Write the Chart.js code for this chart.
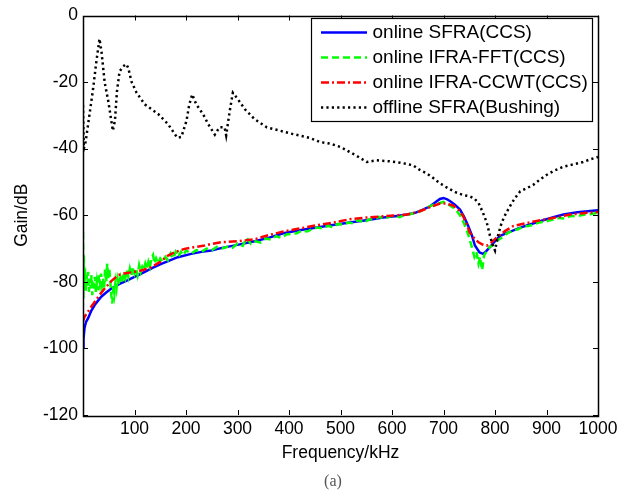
<!DOCTYPE html>
<html><head><meta charset="utf-8">
<script src="https://cdn.jsdelivr.net/npm/chart.js@4.4.0/dist/chart.umd.min.js"></script>
<style>html,body{margin:0;padding:0;background:#fff;}#wrap{width:635px;height:493px;position:relative;}canvas{display:block;}</style>
</head><body><div id="wrap"><canvas id="c" width="635" height="493"></canvas></div>
<script>
const seriesLabels = ['online SFRA(CCS)', 'online IFRA-FFT(CCS)', 'online IFRA-CCWT(CCS)', 'offline SFRA(Bushing)'];
const xTicks = [100, 200, 300, 400, 500, 600, 700, 800, 900, 1000];
const yTicks = [0, -20, -40, -60, -80, -100, -120];

const sfraFreq = [0,1,3,6,10,16,23,30,36,45,55,70,87,100,120,135,152,170,184,210,230,249,270,300,333,360,389,420,454,485,518,550,583,610,629,645,660,674,685,693,700,707,713,722,732,740,748,755,761,770,777,783,790,800,810,825,849,875,900,915,933,960,980,1000];
const sfraGain = [-99.8,-97,-93.8,-92,-90.9,-88.7,-86.9,-85.5,-84.4,-83.2,-82,-80.7,-79.5,-78.5,-77,-75.8,-74.6,-73.5,-72.6,-71.6,-71,-70.6,-69.8,-68.9,-67.8,-66.8,-65.4,-64.5,-63.7,-62.9,-62.2,-61.5,-60.7,-60.2,-59.8,-59.3,-58.3,-57.3,-56,-55.1,-54.8,-55.2,-55.8,-56.8,-58.3,-60.5,-63.2,-66,-69.1,-71.2,-71.6,-70.8,-69.6,-67.8,-66.2,-65.2,-63.7,-62.4,-61.2,-60.5,-59.8,-59.1,-58.8,-58.5];

const fftFreq = [0,0.5,1.5,3,4,5.5,7,8.5,10,11.5,13,15,16.5,18,20,21.5,23,25,27,29,31,33,35,37,39,41,43,45,47,49,51,53,55,57,59,61,63,65,67,70,73,76,79,82,85,88,91,94,97,100,103,106,109,112,115,118,121,124,127,130,133,136,139,142,146,150,155,160,165,170,175,180,185,190,195,200,210,220,230,240,250,260,270,280,290,300,310,318,326,335,345,355,365,375,385,395,405,415,425,435,445,455,465,475,485,495,505,515,525,535,545,555,565,575,585,595,605,615,625,635,645,655,665,675,685,693,700,708,716,724,732,740,748,755,760,764,768,771,775,779,783,790,798,805,815,825,835,845,855,865,875,885,895,905,915,925,935,945,955,965,975,985,1000];
const fftGain = [-65,-85,-72,-80,-76,-83,-78,-81,-77,-83,-79,-82,-78,-84,-80,-82,-78.5,-83,-80,-82.5,-78,-80.5,-77.5,-81,-79,-82,-76,-80,-74.5,-79,-76,-80,-84,-86.5,-81,-83.5,-80,-82,-79,-81,-78.5,-80,-77.5,-79,-76.5,-78.5,-76,-78,-75.5,-77.5,-76,-78,-75,-77,-75.5,-76.5,-74.5,-76,-74,-75.5,-73,-72,-74.5,-73,-74.5,-73,-74,-72.5,-73.5,-71.5,-73,-71,-72.5,-71,-72,-70.5,-71.5,-70.5,-71,-70,-70.5,-69.5,-70,-69.5,-69.8,-68.5,-69.2,-66.8,-68.6,-67.8,-68.2,-67,-67.3,-66.3,-66.8,-65.8,-65.6,-65.4,-64.6,-64.9,-64.2,-63.7,-63.9,-63.2,-63.6,-62.6,-62.8,-62.2,-62.4,-61.4,-62.2,-61.3,-61.2,-60.5,-61,-60.4,-60.1,-60.6,-59.8,-59.7,-59.2,-58.8,-58,-57.2,-56.6,-56.3,-56,-56.6,-57.4,-58.4,-60,-62.5,-65.8,-69.5,-72.5,-71,-74.5,-72.5,-76.5,-72,-71,-69.5,-68.8,-67.6,-66.5,-65.3,-64.6,-64.2,-63.4,-63.2,-62.8,-62.2,-62,-61.6,-61.2,-60.8,-61,-60.3,-60.2,-60.1,-59.8,-59.7,-59.2];

const ccwtFreq = [0,3,10,16,23,32,42,55,68,80,100,115,133,150,165,180,197,215,236,250,269,300,333,360,389,420,454,485,518,550,583,610,629,654,675,693,705,719,730,738,745,751,760,768,776,784,793,803,820,836,860,881,910,946,970,1000];
const ccwtGain = [-91.9,-90.5,-88.9,-87.5,-86,-84,-82,-79.8,-78,-77.5,-77,-76.5,-75.6,-74,-72.1,-71,-70.1,-69.6,-69.1,-68.6,-68.1,-67.8,-67.2,-66,-64.9,-64,-63,-62.2,-61.2,-60.7,-60.3,-60,-59.8,-58.8,-57.5,-56.5,-56.5,-57.1,-58.5,-60.2,-62.8,-65.2,-67,-68.1,-68.8,-69.1,-68.2,-66.7,-64.7,-63.2,-62.4,-61.7,-60.9,-59.8,-59.4,-59];

const bushFreq = [0,1.5,5,10,19,26,32,36,42,49,55,58,62,66,71,78,84,88,94,104,120,146,165,183,191,201,206,212,220,233,243,256,265,275,278,285,291,301,314,333,357,380,402,441,460,480,500,518,535,551,570,595,616,641,654,667,680,693,710,726,740,751,760,768,776,784,790,795,800,806,813,821,829,838,849,860,874,887,900,915,933,950,971,985,1000];
const bushGain = [-27,-40,-38,-32.6,-22.7,-13.8,-7,-11,-20,-25.7,-31.6,-34.6,-31.6,-22.7,-16.8,-15.3,-14.6,-15.8,-19.8,-23.2,-26.7,-29.6,-32.6,-36.7,-36.5,-31.6,-27,-23.7,-26.7,-29.6,-32.6,-35.8,-33.6,-33.6,-36,-28.6,-23.2,-25.2,-28.1,-31.1,-33.6,-34.5,-35.4,-36.8,-38,-38.5,-39.5,-41,-42.5,-44,-43.5,-43.8,-44.2,-45,-46.4,-47.4,-48.8,-50.4,-52,-53.3,-54,-54.3,-55,-56.3,-59,-62.2,-66,-68.8,-70.6,-66,-62.2,-59.5,-57.3,-55,-52.8,-52,-50.9,-49.3,-47.9,-46.6,-45.4,-44.8,-44,-43.2,-42.5];

const FONT = "'Liberation Sans', Arial, sans-serif";
const pts = (f, g) => f.map((v, i) => ({x: v, y: g[i]}));

const colors = ['#0000ff', '#00ff00', '#ff0000', '#000000'];
const dashes = [[], [7, 4], [8, 3, 2, 3], [2.2, 3.2]];

const framePlugin = {
  id: 'frame',
  afterDatasetsDraw(chart) {
    const {ctx, chartArea: a, scales: {x, y}} = chart;
    ctx.save();
    ctx.strokeStyle = '#000';
    ctx.lineWidth = 1;
    ctx.beginPath();
    xTicks.forEach(v => {
      const px = Math.round(x.getPixelForValue(v)) + 0.5;
      ctx.moveTo(px, a.bottom); ctx.lineTo(px, a.bottom - 5);
      ctx.moveTo(px, a.top); ctx.lineTo(px, a.top + 5);
    });
    yTicks.forEach(v => {
      const py = Math.round(y.getPixelForValue(v)) + 0.5;
      ctx.moveTo(a.left, py); ctx.lineTo(a.left + 5, py);
      ctx.moveTo(a.right, py); ctx.lineTo(a.right - 5, py);
    });
    ctx.stroke();
    ctx.lineWidth = 1.5;
    ctx.strokeRect(Math.round(a.left) + 0.5, Math.round(a.top) + 0.5, Math.round(a.right - a.left), Math.round(a.bottom - a.top));
    ctx.restore();
  }
};

const legendPlugin = {
  id: 'boxLegend',
  afterDraw(chart) {
    const {ctx} = chart;
    const bx = 311, by = 18, bw = 281, bh = 103;
    ctx.save();
    ctx.fillStyle = '#fff';
    ctx.fillRect(bx, by, bw, bh);
    ctx.strokeStyle = '#000';
    ctx.lineWidth = 1.2;
    ctx.strokeRect(bx + 0.5, by + 0.5, bw, bh);
    chart.data.datasets.forEach((ds, i) => {
      const yy = 32.5 + i * 25;
      ctx.beginPath();
      ctx.setLineDash(ds.borderDash || []);
      ctx.strokeStyle = ds.borderColor;
      ctx.lineWidth = ds.borderWidth;
      ctx.moveTo(321, yy); ctx.lineTo(367, yy);
      ctx.stroke();
      ctx.setLineDash([]);
      ctx.fillStyle = '#000';
      ctx.font = '19px ' + FONT;
      ctx.textBaseline = 'middle';
      ctx.textAlign = 'left';
      ctx.fillText(ds.label, 372.5, yy + 0.5);
    });
    ctx.fillStyle = '#555';
    ctx.font = "16px 'Liberation Serif', 'Times New Roman', serif";
    ctx.textAlign = 'center';
    ctx.textBaseline = 'middle';
    ctx.fillText('(a)', 333, 482);
    ctx.restore();
  }
};

const allFreq = [sfraFreq, fftFreq, ccwtFreq, bushFreq];
const allGain = [sfraGain, fftGain, ccwtGain, bushGain];

new Chart(document.getElementById('c'), {
  type: 'line',
  data: {
    datasets: seriesLabels.map((lab, i) => ({
      label: lab,
      data: pts(allFreq[i], allGain[i]),
      borderColor: colors[i],
      borderWidth: 2.5,
      borderDash: dashes[i],
      pointRadius: 0,
      tension: 0,
      fill: false,
      order: 4 - i
    }))
  },
  options: {
    responsive: false,
    animation: false,
    devicePixelRatio: 1,
    layout: {padding: {left: 0, top: 10, right: 37, bottom: 0}},
    plugins: {legend: {display: false}, tooltip: {enabled: false}},
    scales: {
      x: {
        type: 'linear', min: 0, max: 1000,
        afterBuildTicks: s => { s.ticks = xTicks.map(v => ({value: v})); },
        afterFit: s => { s.height = 78; },
        grid: {display: false, drawTicks: false},
        border: {display: false},
        ticks: {padding: 4, color: '#000', font: {family: FONT, size: 17.5}, maxRotation: 0, autoSkip: false, callback: v => String(v)},
        title: {display: true, text: 'Frequency/kHz', color: '#000', font: {family: FONT, size: 17.5}, padding: {top: 0, bottom: 29.5}}
      },
      y: {
        type: 'linear', min: -120, max: 0,
        afterBuildTicks: s => { s.ticks = yTicks.map(v => ({value: v})); },
        afterFit: s => { s.width = 83; },
        grid: {display: false, drawTicks: false},
        border: {display: false},
        ticks: {padding: 5, color: '#000', font: {family: FONT, size: 17.5}, autoSkip: false, callback: v => String(v)},
        title: {display: true, text: 'Gain/dB', color: '#000', font: {family: FONT, size: 17.5}, padding: {top: 11.5, bottom: 0}}
      }
    }
  },
  plugins: [framePlugin, legendPlugin]
});
</script>
</body></html>
